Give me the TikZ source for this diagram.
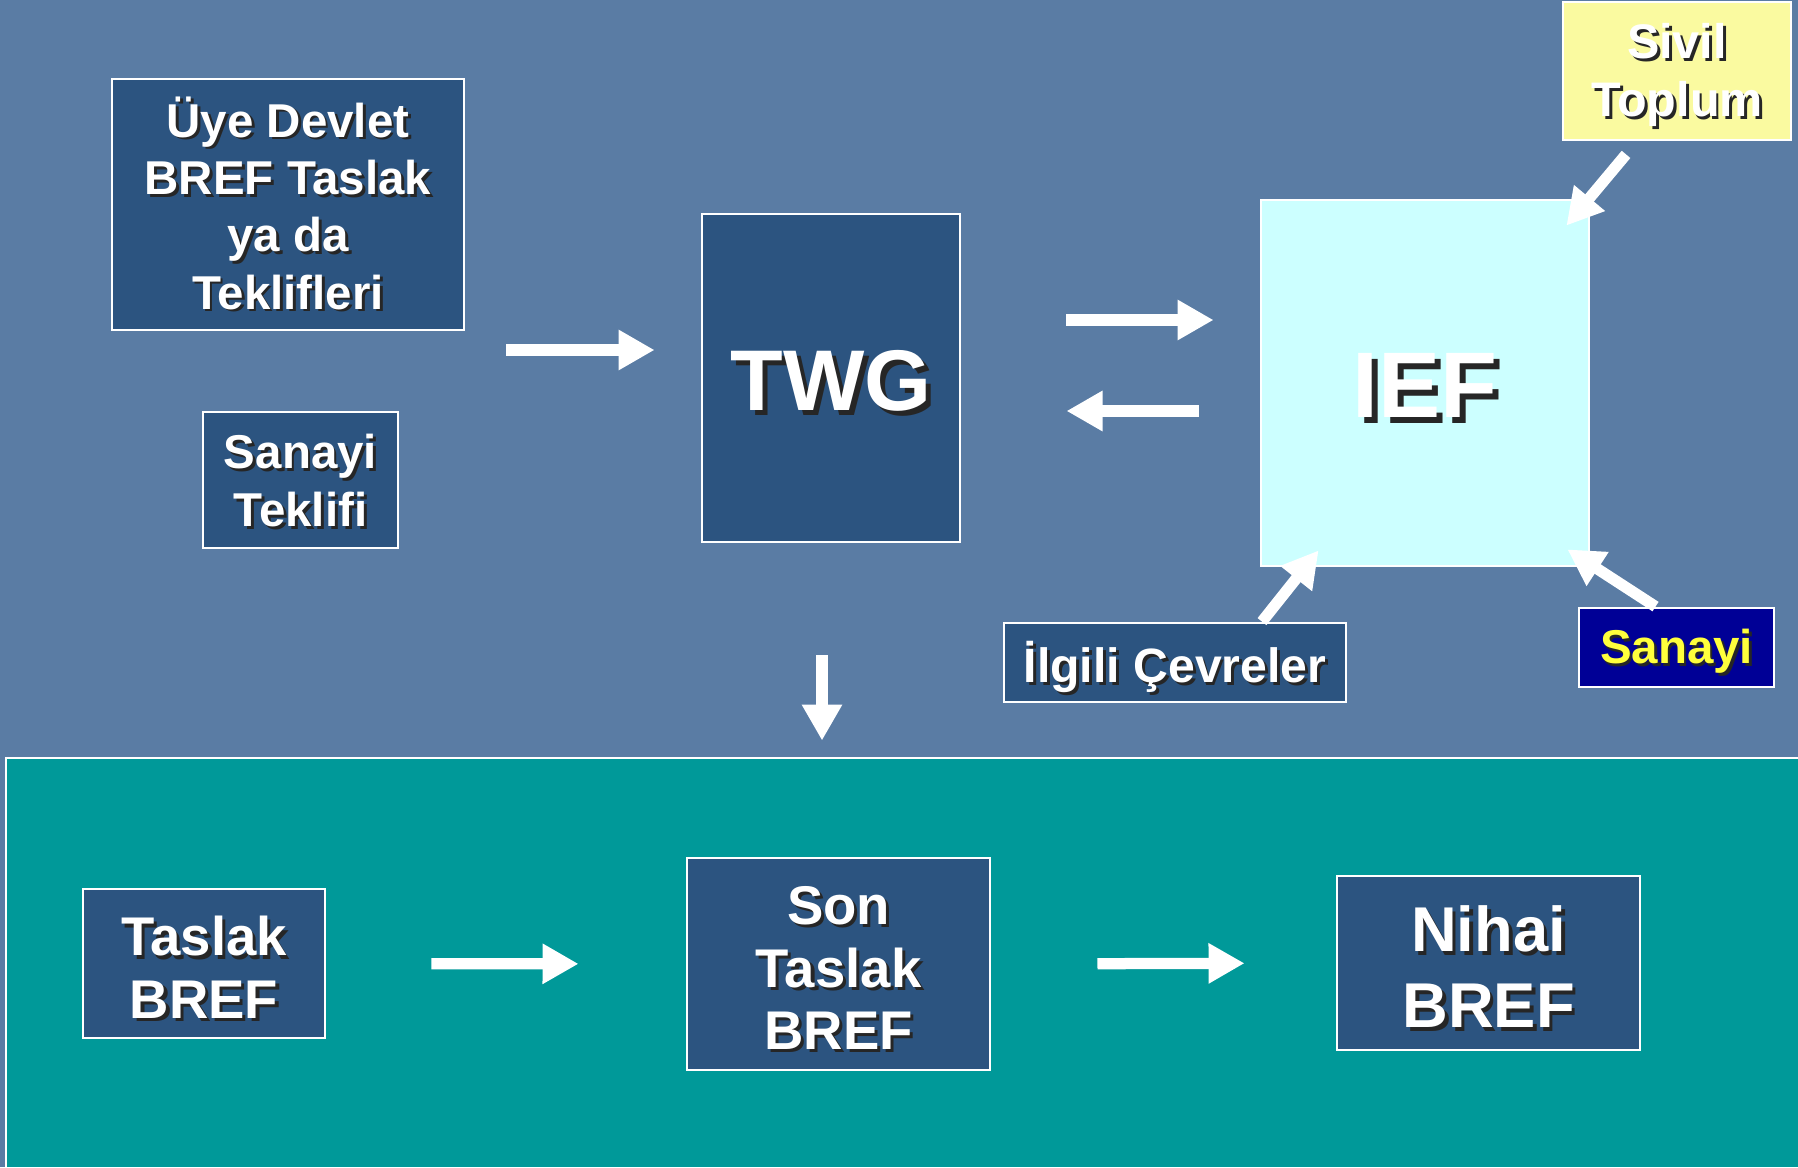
\documentclass[tikz,border=0pt]{standalone}
\usepackage{fontspec}
\setmainfont{Liberation Sans}
\usetikzlibrary{arrows.meta}
\definecolor{slate}{RGB}{90,124,164}
\definecolor{boxblue}{RGB}{44,84,128}
\definecolor{iefcyan}{RGB}{204,255,255}
\definecolor{palelemon}{RGB}{250,250,160}
\definecolor{navy}{RGB}{0,0,150}
\definecolor{teal}{RGB}{0,153,153}
\definecolor{sunyellow}{RGB}{255,255,60}
% text with a dark drop shadow (optional arg lowers the line)
\newcommand\sh[2][1.6pt]{\leavevmode\raisebox{-#1}[\height][\depth]{%
  \rlap{\kern.06em\raisebox{-.06em}{\color{black!85}#2}}#2}}

\begin{document}
\begin{tikzpicture}[%
  x=0.01cm, y=-0.01cm,
  panel/.style={draw=white, line width=0.8pt, fill=boxblue, text=white,
    font=\bfseries\fontsize{13.5}{16.5}\selectfont, align=center,
    inner sep=0pt},
  bigpanel/.style={panel, font=\bfseries\fontsize{24.5}{27}\selectfont},
  lowpanel/.style={panel, font=\bfseries\fontsize{15.5}{17.8}\selectfont},
  wd/.style={minimum width=#1*0.01cm},
  ht/.style={minimum height=#1*0.01cm},
  arr/.style={draw=white, line width=3.2pt,
    -{Triangle[length=3.6mm,width=3.8mm]}}]

\fill[slate] (0,0) rectangle (1798,1167);
\useasboundingbox (0,0) rectangle (1798,1167);

% upper part
\node[panel, font=\bfseries\fontsize{13.5}{16.3}\selectfont, wd=352, ht=251]
  (uye) at (288,204.5)
  {\sh[0pt]{Üye Devlet}\\\sh[0pt]{BREF Taslak}\\\sh[0pt]{ya da}\\\sh[0pt]{Teklifleri}};
\node[panel, wd=195, ht=136] (teklif) at (300.5,480)
  {\sh[0.6pt]{Sanayi}\\\sh[0.6pt]{Teklifi}};
\node[bigpanel, wd=258, ht=328] (twg) at (831,378) {\sh{TWG}};
\node[bigpanel, fill=iefcyan, font=\bfseries\fontsize{26.5}{29}\selectfont,
  wd=328, ht=366] (ief) at (1425,383) {\sh{IEF}};
\node[panel, fill=palelemon, font=\bfseries\fontsize{13.8}{16.5}\selectfont,
  wd=228, ht=138] (sivil) at (1677,71) {\sh{Sivil}\\\sh{Toplum}};
\node[panel, font=\bfseries\fontsize{13.7}{16.5}\selectfont, wd=342, ht=79]
  (ilgili) at (1175,662.5) {\sh{İlgili Çevreler}};
\node[panel, fill=navy, text=sunyellow, wd=195, ht=79] (sanayi) at (1676.5,647.5)
  {\sh{Sanayi}};

\coordinate (giris) at (506,350);
\draw[arr, shorten >=4.6mm] (giris) -- (twg.west |- giris);
\draw[arr, shorten <=10.5mm, shorten >=4.6mm] (twg.east |- 0,320) -- (ief.west |- 0,320);
\draw[arr, shorten <=6.1mm, shorten >=10.5mm] (ief.west |- 0,411) -- (twg.east |- 0,411);
\draw[arr] ([shift={(-51,13)}]sivil.south) -- ([shift={(-24,27)}]ief.north east);
\draw[arr] ([shift={(87,0)}]ilgili.north) -- ([shift={(59,-17)}]ief.south west);
\draw[arr] ([shift={(-21,0)}]sanayi.north) -- ([shift={(-23,-18)}]ief.south east);

% lower band
\node[draw=white, line width=0.8pt, fill=teal, inner sep=0pt,
  minimum width=1794*0.01cm, minimum height=410*0.01cm] (band) at (903,963) {};
\node[lowpanel, wd=242, ht=149] (taslak) at (204,963.5) {\sh{Taslak}\\\sh{BREF}};
\node[lowpanel, wd=303, ht=212] (son) at (838.5,964)
  {\sh{Son}\\\sh{Taslak}\\\sh{BREF}};
\node[panel, font=\bfseries\fontsize{18}{21.5}\selectfont, wd=303, ht=174]
  (nihai) at (1488.5,963) {\sh{Nihai}\\\sh{BREF}};

\coordinate (asagi) at (822,655);
\draw[arr, shorten >=1.6mm] (asagi) -- (asagi |- band.north);
\draw[arr, shorten <=10.5mm, shorten >=10.7mm] (taslak.east) -- (son.west);
\draw[arr, shorten <=10.6mm, shorten >=9.1mm] (son.east) -- (nihai.west);
\end{tikzpicture}
\end{document}
